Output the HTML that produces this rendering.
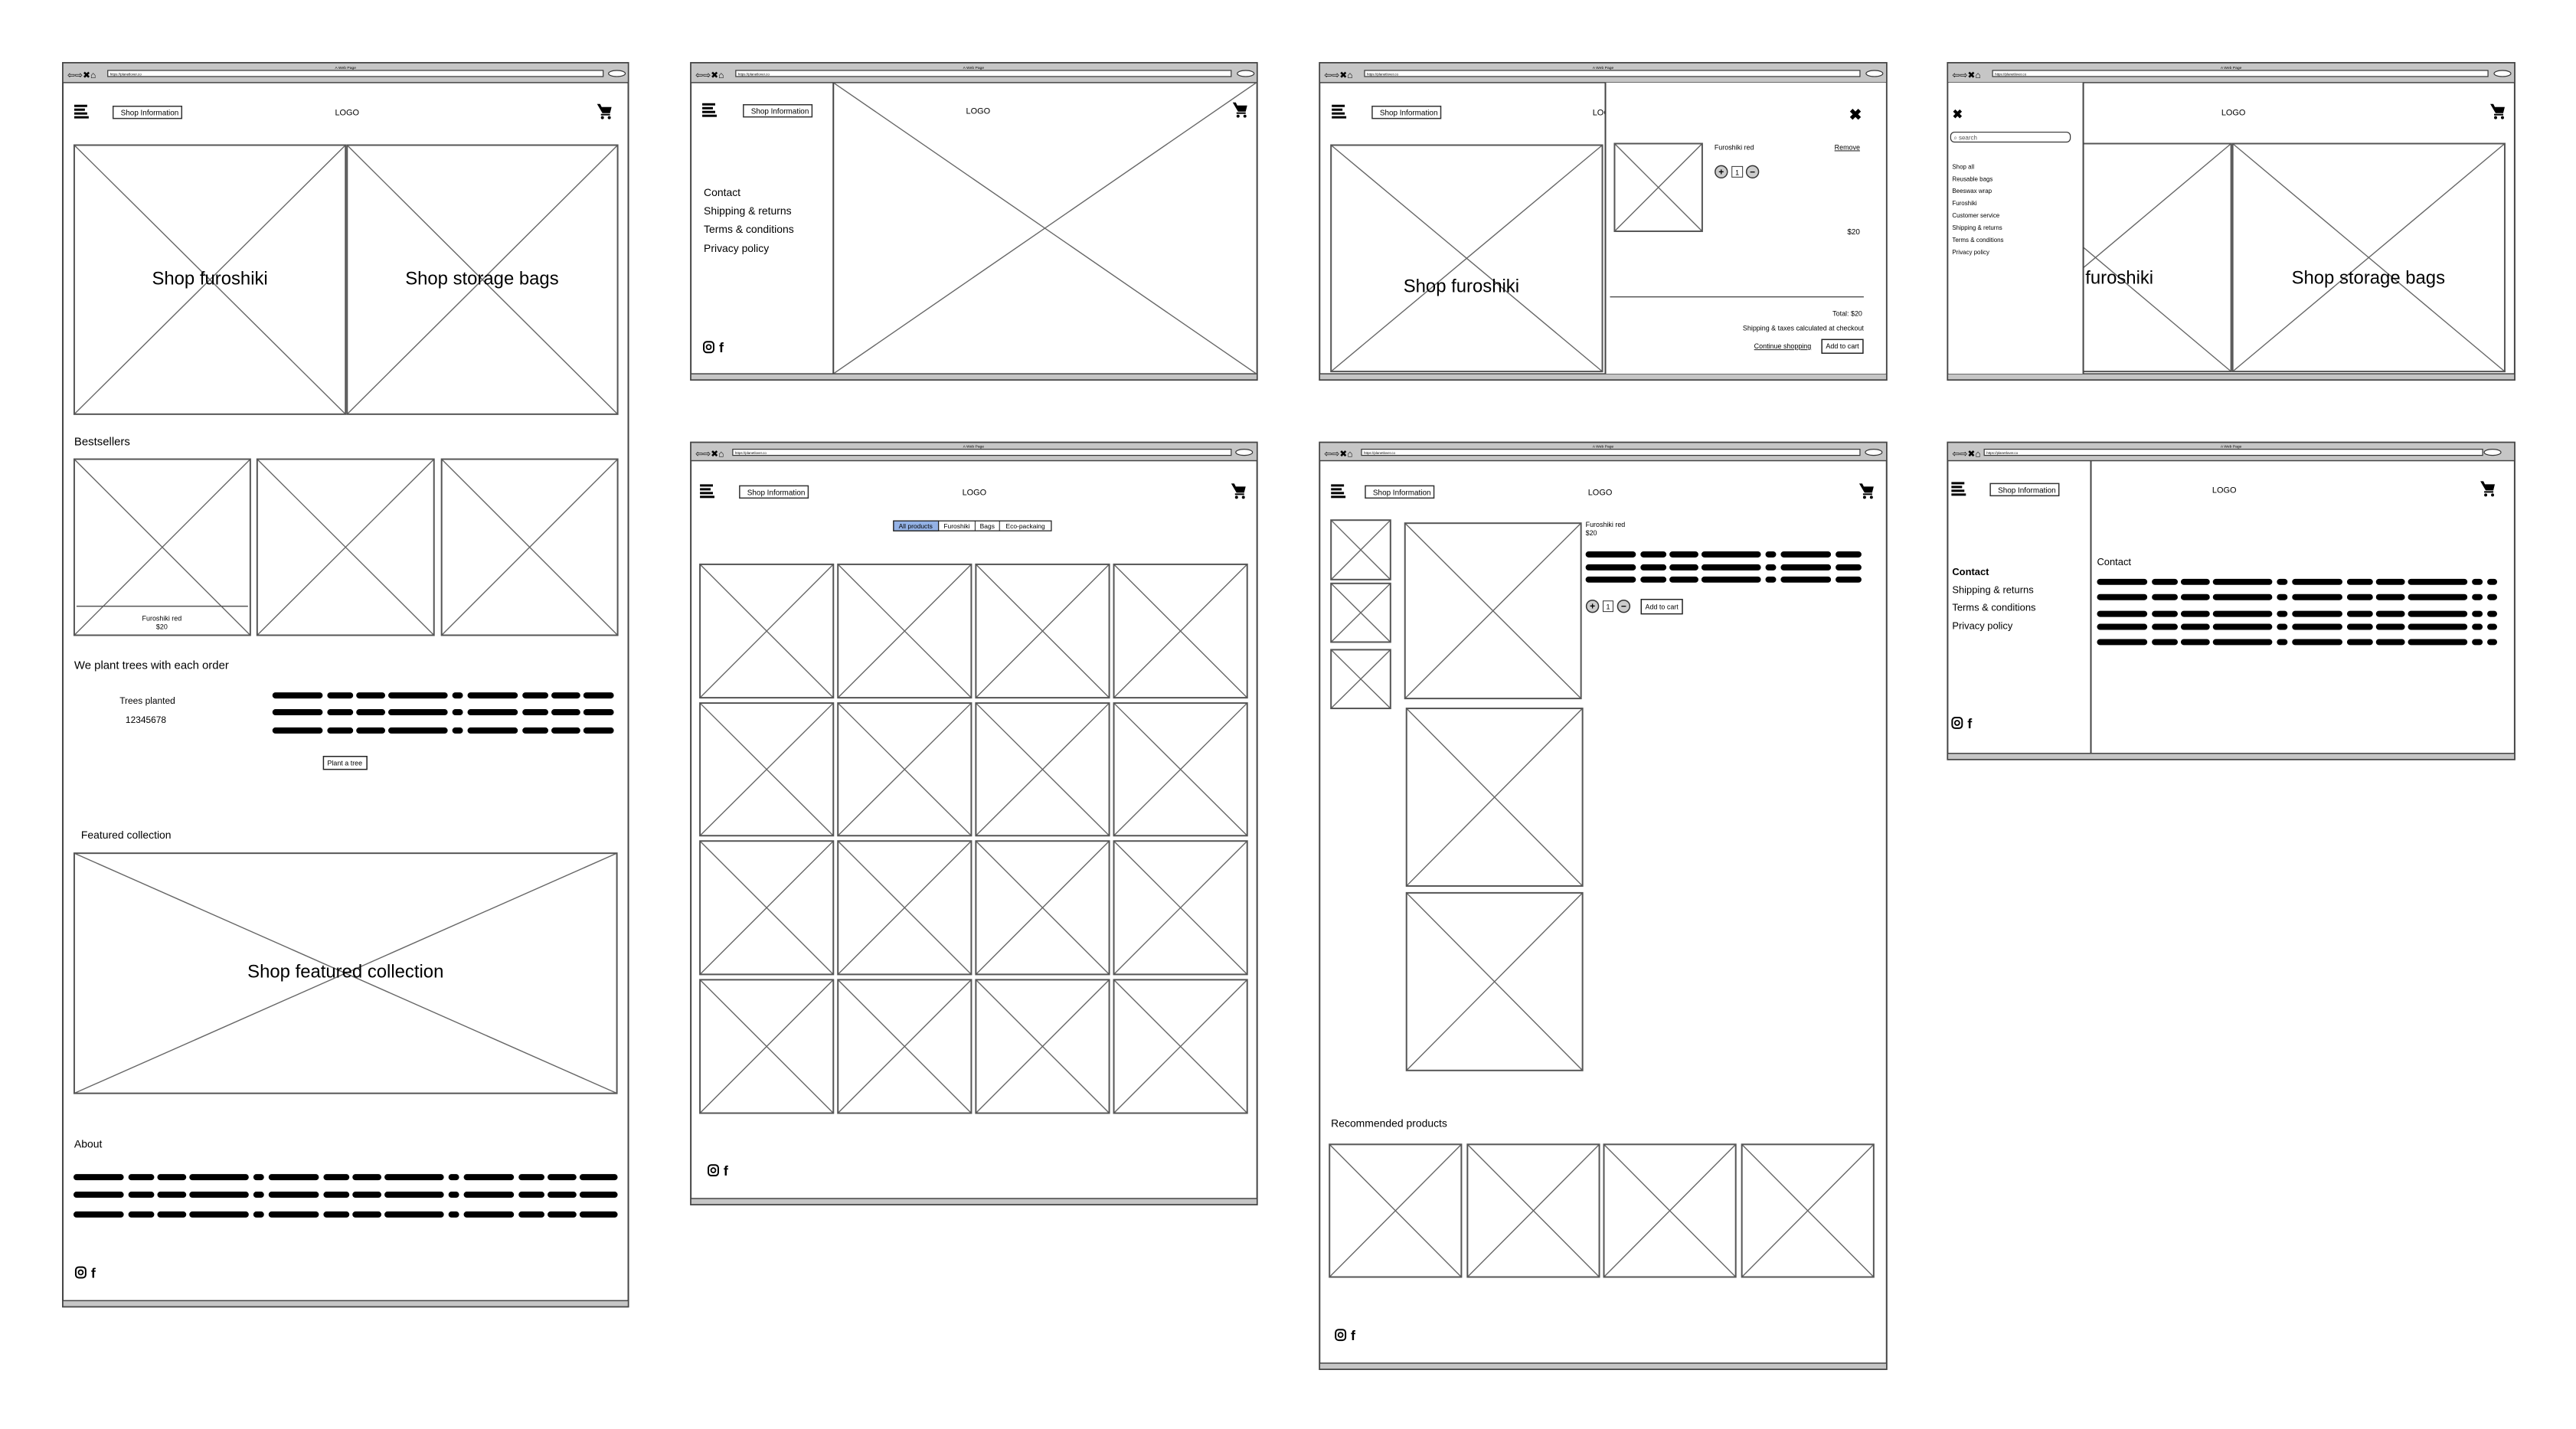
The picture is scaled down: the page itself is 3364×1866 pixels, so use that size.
<!DOCTYPE html>
<html><head><meta charset="utf-8"><style>
html,body{margin:0;padding:0;background:#fff;}
svg{display:block;font-family:"Liberation Sans",sans-serif;}
.fr{fill:#fff;stroke:#444;stroke-width:2}
.tb{fill:#c6c6c6;stroke:#444;stroke-width:1.5}
.x{fill:none;stroke:#666;stroke-width:1.4}
.bx{fill:none;stroke:#555;stroke-width:2}
.sq{stroke:#000;stroke-width:8;stroke-linecap:round;stroke-dasharray:58 14 26 12 30 12 70 14 6 14}
</style></head><body>
<svg width="3364" height="1866" viewBox="0 0 3364 1866" xmlns="http://www.w3.org/2000/svg">
<defs>
<g id="ham"><rect x="0" y="-10" width="17" height="3"/><rect x="0" y="-5" width="14" height="3"/><rect x="0" y="0" width="17" height="3"/><rect x="0" y="5" width="19" height="3"/></g>
<g id="cart"><path d="M-9 -10 h4 l2 4 h13 l-2 8 h-10 z"/><rect x="-4" y="3" width="12" height="2"/><circle cx="-2" cy="8" r="2"/><circle cx="7" cy="8" r="2"/></g>
<g id="soc"><rect x="0" y="-7" width="13" height="14" rx="4" fill="none" stroke="#000" stroke-width="2"/><circle cx="6.5" cy="0" r="3" fill="none" stroke="#000" stroke-width="1.8"/><text x="20" y="7" font-size="18" font-weight="bold">f</text></g>
<g id="chrome"><text x="2" y="4" font-size="12">⇦⇨✖⌂</text></g>
<g id="shopinfo"><text x="10" y="12" font-size="10">Shop</text><text x="36" y="12" font-size="10">Information</text></g>
</defs>
<g transform="translate(0.4 0.4) scale(0.9953)">
<!-- ============ FRAME 1 ============ -->
<rect class="fr" x="82" y="82" width="742" height="1632"/>
<rect class="tb" x="82" y="82" width="742" height="26"/>
<text x="453" y="90" font-size="5" text-anchor="middle">A Web Page</text>
<use href="#chrome" x="86" y="98"/>
<rect x="141" y="92" width="650" height="8" fill="#fff" stroke="#333" stroke-width="1.2"/>
<text x="144" y="98.5" font-size="4.5">https://planetlover.co</text>
<ellipse cx="809" cy="96" rx="11" ry="4" fill="#fff" stroke="#333" stroke-width="1.2"/>
<rect class="tb" x="82" y="1706" width="742" height="8"/>
<use href="#ham" x="97" y="147"/>
<rect x="148" y="139" width="90" height="16" fill="#fff" stroke="#333" stroke-width="1.5"/>
<use href="#shopinfo" x="148" y="139"/>
<text x="455" y="151" font-size="11" text-anchor="middle">LOGO</text>
<use href="#cart" x="792" y="146"/>
<path class="x" d="M97 190L453 543 M453 190L97 543 M455 190L810 543 M810 190L455 543"/>
<rect class="bx" x="97" y="190" width="356" height="353"/><rect class="bx" x="455" y="190" width="355" height="353"/>
<text x="275" y="373" font-size="24" text-anchor="middle">Shop furoshiki</text>
<text x="632" y="373" font-size="24" text-anchor="middle">Shop storage bags</text>
<text x="97" y="584" font-size="15">Bestsellers</text>
<path class="x" d="M97 602L328 833 M328 602L97 833 M337 602L569 833 M569 602L337 833 M579 602L810 833 M810 602L579 833"/>
<rect class="bx" x="97" y="602" width="231" height="231"/><rect class="bx" x="337" y="602" width="232" height="231"/><rect class="bx" x="579" y="602" width="231" height="231"/>
<line x1="100" y1="795" x2="325" y2="795" stroke="#555" stroke-width="1.5"/>
<text x="212" y="814" font-size="9" text-anchor="middle">Furoshiki red</text>
<text x="212" y="825" font-size="9" text-anchor="middle">$20</text>
<text x="97" y="877" font-size="15">We plant trees with each order</text>
<text x="193" y="923" font-size="12" text-anchor="middle">Trees planted</text>
<text x="191" y="948" font-size="12" text-anchor="middle">12345678</text>
<line class="sq" x1="361" y1="912" x2="801" y2="912"/><line class="sq" x1="361" y1="934" x2="801" y2="934"/><line class="sq" x1="361" y1="958" x2="801" y2="958"/>
<rect x="424" y="992" width="57" height="17" fill="#fff" stroke="#222" stroke-width="1.5"/>
<text x="452" y="1004" font-size="9" text-anchor="middle">Plant a tree</text>
<text x="106" y="1100" font-size="14">Featured collection</text>
<path class="x" d="M97 1119L809 1434 M809 1119L97 1434"/>
<rect class="bx" x="97" y="1119" width="712" height="315"/>
<text x="453" y="1282" font-size="24" text-anchor="middle">Shop featured collection</text>
<text x="97" y="1505" font-size="14">About</text>
<line class="sq" x1="100" y1="1544" x2="806" y2="1544"/><line class="sq" x1="100" y1="1567" x2="806" y2="1567"/><line class="sq" x1="100" y1="1593" x2="806" y2="1593"/>
<use href="#soc" x="99" y="1669"/>

<!-- ============ FRAME 2 ============ -->
<rect class="fr" x="906" y="82" width="743" height="416"/>
<rect class="tb" x="906" y="82" width="743" height="26"/>
<text x="1277" y="90" font-size="5" text-anchor="middle">A Web Page</text>
<use href="#chrome" x="910" y="98"/>
<rect x="965" y="92" width="650" height="8" fill="#fff" stroke="#333" stroke-width="1.2"/>
<text x="968" y="98.5" font-size="4.5">https://planetlover.co</text>
<ellipse cx="1634" cy="96" rx="11" ry="4" fill="#fff" stroke="#333" stroke-width="1.2"/>
<rect class="tb" x="906" y="490" width="743" height="8"/>
<path class="x" d="M1093 108L1648 490 M1648 108L1093 490"/>
<line x1="1093" y1="108" x2="1093" y2="490" stroke="#444" stroke-width="2"/>
<use href="#ham" x="921" y="145"/>
<rect x="975" y="137" width="90" height="16" fill="#fff" stroke="#333" stroke-width="1.5"/>
<use href="#shopinfo" x="975" y="137"/>
<text x="1283" y="149" font-size="11" text-anchor="middle">LOGO</text>
<use href="#cart" x="1626" y="144"/>
<text x="923" y="257" font-size="14">Contact</text>
<text x="923" y="281" font-size="14">Shipping &amp; returns</text>
<text x="923" y="305" font-size="14">Terms &amp; conditions</text>
<text x="923" y="330" font-size="14">Privacy policy</text>
<use href="#soc" x="923" y="455"/>

<!-- ============ FRAME 3 ============ -->
<rect class="fr" x="1731" y="82" width="744" height="416"/>
<rect class="tb" x="1731" y="82" width="744" height="26"/>
<text x="2103" y="90" font-size="5" text-anchor="middle">A Web Page</text>
<use href="#chrome" x="1735" y="98"/>
<rect x="1790" y="92" width="650" height="8" fill="#fff" stroke="#333" stroke-width="1.2"/>
<text x="1793" y="98.5" font-size="4.5">https://planetlover.co</text>
<ellipse cx="2459" cy="96" rx="11" ry="4" fill="#fff" stroke="#333" stroke-width="1.2"/>
<rect class="tb" x="1731" y="490" width="744" height="8"/>
<use href="#ham" x="1747" y="147"/>
<rect x="1800" y="139" width="90" height="16" fill="#fff" stroke="#333" stroke-width="1.5"/>
<use href="#shopinfo" x="1800" y="139"/>
<text x="2105" y="151" font-size="11" text-anchor="middle">LOGO</text>
<path class="x" d="M1746 190L2102 487 M2102 190L1746 487"/>
<rect class="bx" x="1746" y="190" width="356" height="297"/>
<text x="1917" y="383" font-size="24" text-anchor="middle">Shop furoshiki</text>
<rect x="2106" y="108" width="368" height="382" fill="#fff"/>
<line x1="2106" y1="108" x2="2106" y2="490" stroke="#444" stroke-width="2"/>
<text x="2434" y="157" font-size="20" font-weight="bold" text-anchor="middle">✖</text>
<path class="x" d="M2118 188L2233 303 M2233 188L2118 303"/>
<rect class="bx" x="2118" y="188" width="115" height="115"/>
<text x="2249" y="196" font-size="9">Furoshiki red</text>
<text x="2440" y="196" font-size="9" text-anchor="end" text-decoration="underline">Remove</text>
<circle cx="2258" cy="225" r="8" fill="#ccc" stroke="#333" stroke-width="1.5"/><text x="2258" y="229" font-size="12" font-weight="bold" text-anchor="middle">+</text>
<rect x="2272" y="218" width="14" height="14" fill="#fff" stroke="#333" stroke-width="1"/><text x="2279" y="229" font-size="9" text-anchor="middle">1</text>
<circle cx="2299" cy="225" r="8" fill="#ccc" stroke="#333" stroke-width="1.5"/><text x="2299" y="229" font-size="12" font-weight="bold" text-anchor="middle">−</text>
<text x="2440" y="307" font-size="10" text-anchor="end">$20</text>
<line x1="2112" y1="389" x2="2445" y2="389" stroke="#555" stroke-width="1.5"/>
<text x="2443" y="414" font-size="9" text-anchor="end">Total: $20</text>
<text x="2445" y="433" font-size="9" text-anchor="end">Shipping &amp; taxes calculated at checkout</text>
<text x="2376" y="457" font-size="9" text-anchor="end" text-decoration="underline">Continue shopping</text>
<rect x="2390" y="445" width="54" height="18" fill="#fff" stroke="#222" stroke-width="1.5"/>
<text x="2417" y="457" font-size="9" text-anchor="middle">Add to cart</text>

<!-- ============ FRAME 4 ============ -->
<rect class="fr" x="2555" y="82" width="744" height="416"/>
<rect class="tb" x="2555" y="82" width="744" height="26"/>
<text x="2927" y="90" font-size="5" text-anchor="middle">A Web Page</text>
<use href="#chrome" x="2559" y="98"/>
<rect x="2614" y="92" width="650" height="8" fill="#fff" stroke="#333" stroke-width="1.2"/>
<text x="2617" y="98.5" font-size="4.5">https://planetlover.co</text>
<ellipse cx="3283" cy="96" rx="11" ry="4" fill="#fff" stroke="#333" stroke-width="1.2"/>
<rect class="tb" x="2555" y="490" width="744" height="8"/>
<text x="2930" y="151" font-size="11" text-anchor="middle">LOGO</text>
<use href="#cart" x="3276" y="146"/>
<path class="x" d="M2571 188L2927 487 M2927 188L2571 487 M2929 188L3286 487 M3286 188L2929 487"/>
<rect class="bx" x="2571" y="188" width="356" height="299"/><rect class="bx" x="2929" y="188" width="357" height="299"/>
<text x="2749" y="372" font-size="24" text-anchor="middle">Shop furoshiki</text>
<text x="3107" y="372" font-size="24" text-anchor="middle">Shop storage bags</text>
<rect x="2556" y="108" width="177" height="382" fill="#fff"/>
<line x1="2733" y1="108" x2="2733" y2="490" stroke="#444" stroke-width="2"/>
<text x="2568" y="155" font-size="16" font-weight="bold" text-anchor="middle">✖</text>
<rect x="2559" y="173" width="157" height="13" rx="5" fill="#fff" stroke="#333" stroke-width="1.2"/>
<text x="2563" y="183" font-size="8" fill="#555">⌕ search</text>
<text x="2561" y="221" font-size="8">Shop all</text>
<text x="2561" y="237" font-size="8">Reusable bags</text>
<text x="2561" y="253" font-size="8">Beeswax wrap</text>
<text x="2561" y="269" font-size="8">Furoshiki</text>
<text x="2561" y="285" font-size="8">Customer service</text>
<text x="2561" y="301" font-size="8">Shipping &amp; returns</text>
<text x="2561" y="317" font-size="8">Terms &amp; conditions</text>
<text x="2561" y="333" font-size="8">Privacy policy</text>

<!-- ============ FRAME 5 ============ -->
<rect class="fr" x="906" y="580" width="743" height="1000"/>
<rect class="tb" x="906" y="580" width="743" height="24"/>
<text x="1277" y="587" font-size="5" text-anchor="middle">A Web Page</text>
<use href="#chrome" x="910" y="595"/>
<rect x="961" y="589" width="654" height="8" fill="#fff" stroke="#333" stroke-width="1.2"/>
<text x="964" y="595.5" font-size="4.5">https://planetlover.co</text>
<ellipse cx="1632" cy="593" rx="11" ry="4" fill="#fff" stroke="#333" stroke-width="1.2"/>
<rect class="tb" x="906" y="1572" width="743" height="8"/>
<use href="#ham" x="918" y="645"/>
<rect x="970" y="637" width="90" height="16" fill="#fff" stroke="#333" stroke-width="1.5"/>
<use href="#shopinfo" x="970" y="637"/>
<text x="1278" y="649" font-size="11" text-anchor="middle">LOGO</text>
<use href="#cart" x="1624" y="644"/>
<rect x="1172" y="683" width="207" height="13" fill="#fff" stroke="#222" stroke-width="1.3"/>
<rect x="1172" y="683" width="59" height="13" fill="#94b2e6" stroke="#222" stroke-width="1.3"/>
<line x1="1279" y1="683" x2="1279" y2="696" stroke="#222"/><line x1="1311" y1="683" x2="1311" y2="696" stroke="#222"/>
<text x="1201" y="693" font-size="8.5" text-anchor="middle">All products</text>
<text x="1255" y="693" font-size="8.5" text-anchor="middle">Furoshiki</text>
<text x="1295" y="693" font-size="8.5" text-anchor="middle">Bags</text>
<text x="1345" y="693" font-size="8.5" text-anchor="middle">Eco-packaing</text>
<path class="x" d="
M918 740L1093 915M1093 740L918 915 M1099 740L1274 915M1274 740L1099 915 M1280 740L1455 915M1455 740L1280 915 M1461 740L1636 915M1636 740L1461 915
M918 922L1093 1096M1093 922L918 1096 M1099 922L1274 1096M1274 922L1099 1096 M1280 922L1455 1096M1455 922L1280 1096 M1461 922L1636 1096M1636 922L1461 1096
M918 1103L1093 1278M1093 1103L918 1278 M1099 1103L1274 1278M1274 1103L1099 1278 M1280 1103L1455 1278M1455 1103L1280 1278 M1461 1103L1636 1278M1636 1103L1461 1278
M918 1285L1093 1460M1093 1285L918 1460 M1099 1285L1274 1460M1274 1285L1099 1460 M1280 1285L1455 1460M1455 1285L1280 1460 M1461 1285L1636 1460M1636 1285L1461 1460"/>
<g class="bx">
<rect x="918" y="740" width="175" height="175"/><rect x="1099" y="740" width="175" height="175"/><rect x="1280" y="740" width="175" height="175"/><rect x="1461" y="740" width="175" height="175"/>
<rect x="918" y="922" width="175" height="174"/><rect x="1099" y="922" width="175" height="174"/><rect x="1280" y="922" width="175" height="174"/><rect x="1461" y="922" width="175" height="174"/>
<rect x="918" y="1103" width="175" height="175"/><rect x="1099" y="1103" width="175" height="175"/><rect x="1280" y="1103" width="175" height="175"/><rect x="1461" y="1103" width="175" height="175"/>
<rect x="918" y="1285" width="175" height="175"/><rect x="1099" y="1285" width="175" height="175"/><rect x="1280" y="1285" width="175" height="175"/><rect x="1461" y="1285" width="175" height="175"/>
</g>
<use href="#soc" x="929" y="1535"/>

<!-- ============ FRAME 6 ============ -->
<rect class="fr" x="1731" y="580" width="744" height="1216"/>
<rect class="tb" x="1731" y="580" width="744" height="24"/>
<text x="2103" y="587" font-size="5" text-anchor="middle">A Web Page</text>
<use href="#chrome" x="1735" y="595"/>
<rect x="1786" y="589" width="654" height="8" fill="#fff" stroke="#333" stroke-width="1.2"/>
<text x="1789" y="595.5" font-size="4.5">https://planetlover.co</text>
<ellipse cx="2458" cy="593" rx="11" ry="4" fill="#fff" stroke="#333" stroke-width="1.2"/>
<rect class="tb" x="1731" y="1788" width="744" height="8"/>
<use href="#ham" x="1746" y="645"/>
<rect x="1791" y="637" width="90" height="16" fill="#fff" stroke="#333" stroke-width="1.5"/>
<use href="#shopinfo" x="1791" y="637"/>
<text x="2099" y="649" font-size="11" text-anchor="middle">LOGO</text>
<use href="#cart" x="2448" y="644"/>
<path class="x" d="M1746 682L1824 760M1824 682L1746 760 M1746 765L1824 842M1824 765L1746 842 M1746 852L1824 929M1824 852L1746 929
M1843 686L2074 916M2074 686L1843 916 M1845 929L2076 1162M2076 929L1845 1162 M1845 1171L2076 1404M2076 1171L1845 1404
M1744 1501L1917 1675M1917 1501L1744 1675 M1925 1501L2098 1675M2098 1501L1925 1675 M2104 1501L2277 1675M2277 1501L2104 1675 M2285 1501L2458 1675M2458 1501L2285 1675"/>
<g class="bx">
<rect x="1746" y="682" width="78" height="78"/><rect x="1746" y="765" width="78" height="77"/><rect x="1746" y="852" width="78" height="77"/>
<rect x="1843" y="686" width="231" height="230"/><rect x="1845" y="929" width="231" height="233"/><rect x="1845" y="1171" width="231" height="233"/>
<rect x="1744" y="1501" width="173" height="174"/><rect x="1925" y="1501" width="173" height="174"/><rect x="2104" y="1501" width="173" height="174"/><rect x="2285" y="1501" width="173" height="174"/>
</g>
<text x="2080" y="691" font-size="9">Furoshiki red</text>
<text x="2080" y="702" font-size="9">$20</text>
<line class="sq" x1="2084" y1="727" x2="2446" y2="727"/><line class="sq" x1="2084" y1="744" x2="2446" y2="744"/><line class="sq" x1="2084" y1="760" x2="2446" y2="760"/>
<circle cx="2089" cy="795" r="8" fill="#ccc" stroke="#333" stroke-width="1.5"/><text x="2089" y="799" font-size="12" font-weight="bold" text-anchor="middle">+</text>
<rect x="2103" y="788" width="13" height="14" fill="#fff" stroke="#333"/><text x="2109.5" y="799" font-size="9" text-anchor="middle">1</text>
<circle cx="2130" cy="795" r="8" fill="#ccc" stroke="#333" stroke-width="1.5"/><text x="2130" y="799" font-size="12" font-weight="bold" text-anchor="middle">−</text>
<rect x="2153" y="786" width="54" height="19" fill="#fff" stroke="#222" stroke-width="1.5"/>
<text x="2180" y="799" font-size="9" text-anchor="middle">Add to cart</text>
<text x="1746" y="1478" font-size="14">Recommended products</text>
<use href="#soc" x="1752" y="1751"/>

<!-- ============ FRAME 7 ============ -->
<rect class="fr" x="2555" y="580" width="744" height="416"/>
<rect class="tb" x="2555" y="580" width="744" height="24"/>
<text x="2927" y="587" font-size="5" text-anchor="middle">A Web Page</text>
<use href="#chrome" x="2559" y="595"/>
<rect x="2603" y="589" width="654" height="8" fill="#fff" stroke="#333" stroke-width="1.2"/>
<text x="2606" y="595.5" font-size="4.5">https://planetlover.co</text>
<ellipse cx="3270" cy="593" rx="11" ry="4" fill="#fff" stroke="#333" stroke-width="1.2"/>
<rect class="tb" x="2555" y="988" width="744" height="8"/>
<line x1="2743" y1="604" x2="2743" y2="988" stroke="#444" stroke-width="2"/>
<use href="#ham" x="2560" y="642"/>
<rect x="2611" y="634" width="90" height="16" fill="#fff" stroke="#333" stroke-width="1.5"/>
<use href="#shopinfo" x="2611" y="634"/>
<text x="2918" y="646" font-size="11" text-anchor="middle">LOGO</text>
<use href="#cart" x="3263" y="641"/>
<text x="2561" y="754" font-size="13" font-weight="bold">Contact</text>
<text x="2561" y="778" font-size="13">Shipping &amp; returns</text>
<text x="2561" y="801" font-size="13">Terms &amp; conditions</text>
<text x="2561" y="825" font-size="13">Privacy policy</text>
<use href="#soc" x="2561" y="948"/>
<text x="2751" y="741" font-size="13">Contact</text>
<line class="sq" x1="2755" y1="763" x2="3272" y2="763"/><line class="sq" x1="2755" y1="783" x2="3272" y2="783"/><line class="sq" x1="2755" y1="805" x2="3272" y2="805"/><line class="sq" x1="2755" y1="822" x2="3272" y2="822"/><line class="sq" x1="2755" y1="842" x2="3272" y2="842"/>
</g>
</svg>
</body></html>
